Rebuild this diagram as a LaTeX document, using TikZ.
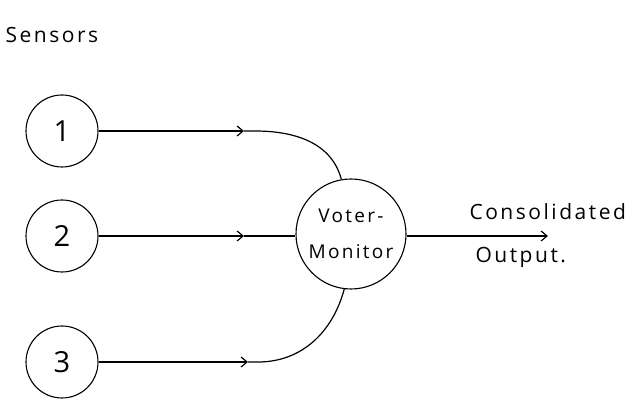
\documentclass[tikz,border=0pt]{standalone}
\usepackage{fontspec}
\setmainfont{Open Sans}[LetterSpace=12]
\usetikzlibrary{arrows.meta}
\begin{document}
\begin{tikzpicture}[
  x=1pt, y=-1pt,
  every node/.style={font=\fontsize{21}{24}\selectfont, align=center},
  sensor/.style={draw, circle, line width=1.1pt, minimum size=72pt, inner sep=0pt, font=\fontsize{29}{30}\selectfont},
  link/.style={line width=1.2pt},
  >={Straight Barb[length=6pt,width=10pt]}
]
\useasboundingbox (0,0) rectangle (625,403);
\node[anchor=west] (title) at (2,35) {Sensors};
\node[sensor] (s1) at (62,131) {1};
\node[sensor] (s2) at (62,236) {2};
\node[sensor] (s3) at (62,362) {3};
\node[sensor, minimum size=110pt, font=\fontsize{19}{36}\selectfont] (voter) at (351,234) {Voter-\\Monitor};
% arrow heads on the way in
\coordinate (a1) at (244,131);
\coordinate (a2) at (244,236);
\coordinate (a3) at (248,362);
\coordinate (b1) at (255,131);
\coordinate (b3) at (258,362);
\coordinate (out) at (548,236);
\draw[link,->] (s1) -- (a1);
\draw[link] (a1) -- (b1) to[out=0,in=105] (voter.100);
\draw[link,->] (s2) -- (a2);
\draw[link] (a2) -- (voter.west |- a2);
\draw[link,->] (s3) -- (a3);
\draw[link] (a3) -- (b3) to[out=0,in=-105] (voter.-97);
\draw[link,->] (voter.east |- out) -- (out);
\node[anchor=west] (cons) at (466,212) {Consolidated};
\node[anchor=west] (outp) at (472,257) {Output.};
\end{tikzpicture}
\end{document}
